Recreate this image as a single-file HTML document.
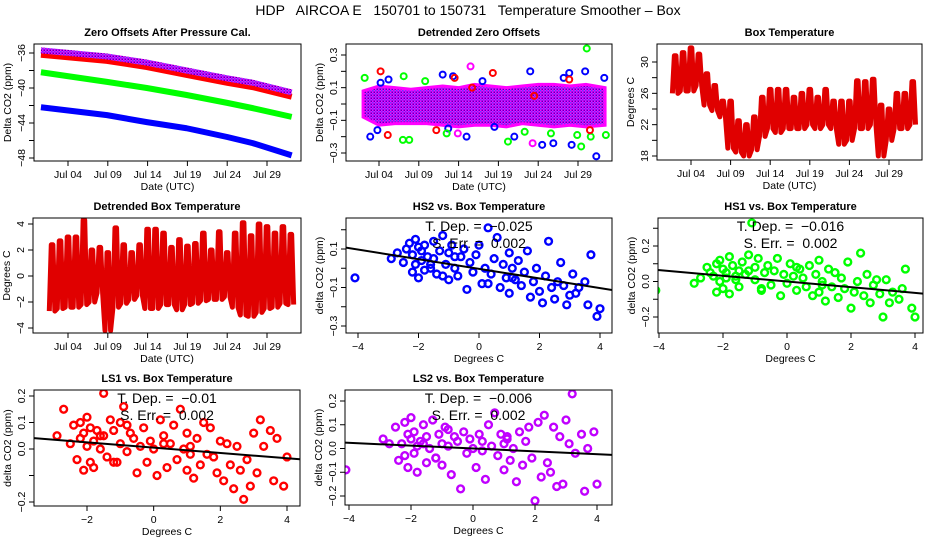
<!DOCTYPE html>
<html><head><meta charset="utf-8"><style>
html,body{margin:0;padding:0;background:#fff;}
svg text{font-family:"Liberation Sans",Arial,sans-serif;white-space:pre;}
</style></head><body>
<svg id="chart" width="936" height="540" viewBox="0 0 936 540" xmlns="http://www.w3.org/2000/svg">
<defs>
<pattern id="patPurple" width="3" height="3" patternUnits="userSpaceOnUse"><rect width="3" height="3" fill="#ff00ff"/><rect width="1.5" height="1.5" fill="#6040ff"/><rect x="1.5" y="1.5" width="1.5" height="1.5" fill="#5000c0"/></pattern>
</defs>
<text x="468" y="15" text-anchor="middle" font-size="14" xml:space="preserve">HDP   AIRCOA E   150701 to 150731   Temperature Smoother – Box</text>
</svg>
<script>
// ---------- data ----------
const zeroT = [-0.4, 7.9, 12.9, 17.9, 23, 26.2, 31.1];
const zeroBlue = [-42.2, -43.1, -43.9, -44.6, -45.6, -46.3, -47.7];
const zeroGreen = [-38.2, -39.3, -40.0, -40.8, -41.7, -42.3, -43.3];
const zeroRed = [-36.2, -36.9, -37.6, -38.5, -39.4, -39.9, -41.0];
const zeroPurple = [-35.7, -36.4, -37.1, -38.0, -38.9, -39.4, -40.5];

const bandT = [1, 3, 5, 7, 9, 11, 13, 15, 17, 19, 21, 23, 25, 27, 29, 31.4];
const bandHi = [0.08, 0.11, 0.1, 0.09, 0.1, 0.11, 0.1, 0.12, 0.11, 0.1, 0.11, 0.12, 0.12, 0.11, 0.12, 0.1];
const bandLo = [-0.08, -0.13, -0.12, -0.12, -0.12, -0.13, -0.14, -0.13, -0.13, -0.14, -0.12, -0.13, -0.14, -0.13, -0.14, -0.13];
const outBlue = [[1.9,-0.2],[2.8,-0.16],[4.2,0.15],[11.0,0.18],[11.7,-0.15],[14.0,-0.2],[17.5,-0.14],[20,-0.2],[22,0.2],[23.5,-0.25],[24.9,-0.24],[26.9,0.19],[27.2,-0.25],[28.9,0.2],[30.3,-0.32],[3.2,0.13],[12.3,0.17],[16,0.14],[26.2,0.16],[31.3,0.16]];
const outGreen = [[1.2,0.16],[6.0,-0.22],[6.8,-0.22],[6.1,0.17],[8.8,0.14],[19.2,-0.23],[24.6,-0.18],[27.9,-0.19],[28.4,-0.26],[29.1,0.34],[29.6,-0.2],[31.5,-0.19],[11.5,-0.18],[21.3,-0.17]];
const outRed = [[3.2,0.2],[4.1,-0.19],[10.2,-0.16],[17.3,0.19],[12.5,0.16],[26.9,0.15],[29.5,-0.16],[14.7,0.1],[22.5,0.05]];
const outPurple = [[14.5,0.23],[12.9,-0.18],[22.3,-0.24]];

const boxMax = [30.8,31.2,31.8,31.0,28.5,27.0,25.0,25.0,22.5,22.0,23.0,25.5,26.5,26.5,26.5,25.5,26.0,26.5,25.5,26.5,25.0,25.0,25.0,27.6,27.5,27.8,24.5,24.0,26.0,26.0,27.5];
const boxMin = [26.0,26.3,26.3,27.0,24.5,23.8,23.0,19.0,18.5,18.0,18.8,20.5,21.5,21.0,21.5,21.5,21.5,22.0,21.5,22.0,21.5,19.5,20.0,21.5,21.5,22.0,18.0,20.0,21.5,21.5,22.0];
const detMax = [2.4,2.7,3.0,3.0,4.3,2.0,2.2,1.8,3.7,2.4,1.8,2.4,3.6,3.6,3.3,2.2,2.8,2.3,2.5,3.3,2.0,3.4,1.8,3.3,4.1,3.1,4.0,3.8,3.3,3.8,3.2];
const detMin = [-2.7,-2.5,-2.4,-2.4,-2.2,-2.0,-1.3,-4.2,-2.4,-2.1,-1.8,-1.5,-2.5,-2.5,-2.2,-2.2,-2.6,-2.2,-2.1,-1.9,-1.8,-1.8,-1.6,-2.4,-3.0,-3.1,-2.8,-2.5,-2.4,-2.1,-2.2];

const tempX = [-4.1,-2.9,-2.7,-2.5,-2.4,-2.3,-2.2,-2.2,-2.1,-2.1,
 -2.0,-2.0,-1.9,-1.9,-1.8,-1.8,-1.7,-1.6,-1.5,-1.5,
 -1.4,-1.3,-1.2,-1.1,-1.0,-1.0,-0.9,-0.8,-0.7,-0.6,
 -0.5,-0.4,-0.3,-0.2,-0.1,0.0,0.1,0.2,0.3,0.4,
 0.5,0.6,0.7,0.8,0.9,1.0,1.0,1.1,1.2,1.3,
 1.4,1.5,1.6,1.7,1.8,1.9,2.0,2.1,2.2,2.3,
 2.4,2.5,2.6,2.7,2.8,2.9,3.0,3.1,3.2,3.3,
 3.5,3.6,3.7,3.9,4.0,-1.6,-1.2,-0.8,0.3,1.1];
const hs2Y = [-0.05,0.05,0.08,0.03,0.10,0.13,0.07,-0.02,0.15,0.02,
 0.11,-0.05,0.09,0.04,0.12,-0.01,0.06,0.00,0.14,0.05,
 -0.03,0.09,0.17,0.02,-0.06,0.08,0.12,0.00,-0.04,0.06,
 0.10,-0.11,0.03,-0.02,0.07,0.12,-0.08,0.00,0.21,-0.03,
 0.05,0.16,-0.10,0.02,-0.05,0.08,-0.13,0.00,-0.06,0.04,
 -0.09,-0.02,0.09,-0.15,-0.07,0.00,-0.12,-0.18,-0.04,0.14,
 -0.10,-0.16,-0.07,0.03,-0.09,-0.19,-0.14,-0.03,-0.13,-0.10,
 -0.07,-0.19,0.07,-0.25,-0.21,0.02,-0.04,0.06,-0.08,-0.05];
const hs1Y = [-0.05,-0.01,0.02,0.08,0.05,0.03,0.10,-0.06,0.12,0.00,
 0.07,-0.04,0.05,0.02,0.14,-0.07,0.09,0.01,0.06,-0.03,
 0.11,0.04,0.15,0.33,0.08,0.01,0.13,-0.05,0.05,0.09,
 -0.02,0.06,0.13,-0.08,0.04,-0.01,0.10,0.03,-0.05,0.07,
 0.02,-0.03,0.09,-0.08,0.04,0.12,-0.06,0.00,-0.11,0.07,
 -0.03,0.05,-0.09,0.02,-0.04,0.11,-0.15,-0.06,0.00,0.16,
 -0.08,0.04,-0.12,-0.02,0.01,-0.07,-0.20,0.01,-0.12,-0.06,
 -0.10,-0.04,0.07,-0.15,-0.20,0.03,0.06,-0.04,0.08,-0.02];
const ls1Y = [0.03,0.05,0.15,0.02,0.09,-0.04,0.04,0.10,-0.08,0.06,
 0.01,0.12,-0.05,0.08,0.03,-0.07,0.07,0.00,0.05,0.21,
 -0.03,0.11,0.07,-0.05,0.02,0.10,0.16,-0.01,0.06,0.04,
 -0.09,0.01,0.08,-0.05,0.03,0.00,-0.10,0.11,0.05,-0.07,
 0.02,0.09,-0.04,0.15,0.00,-0.08,0.06,0.01,-0.11,0.04,
 -0.06,0.10,-0.02,0.08,-0.03,-0.09,0.03,-0.12,0.02,-0.06,
 -0.15,0.01,-0.08,-0.19,-0.04,-0.14,0.06,-0.09,0.11,0.01,
 0.07,-0.12,0.04,-0.14,-0.03,0.05,-0.05,0.09,0.02,-0.02];
const ls2Y = [-0.09,0.04,0.02,0.09,-0.05,0.02,0.11,-0.03,0.06,-0.08,
 0.04,0.13,-0.02,0.07,0.01,-0.10,0.03,0.10,-0.06,0.05,
 0.00,0.12,-0.04,0.06,0.02,-0.07,0.09,0.01,-0.11,0.05,
 0.03,-0.17,0.07,-0.02,0.04,0.00,-0.08,0.06,0.03,-0.13,
 0.10,0.01,0.15,-0.03,0.06,0.02,-0.09,0.05,-0.05,0.00,
 -0.14,0.07,-0.07,0.03,0.09,-0.04,-0.22,0.11,-0.12,0.14,
 -0.06,-0.10,0.09,-0.16,0.05,-0.15,0.12,0.02,0.23,-0.02,
 0.06,-0.18,0.00,0.07,-0.15,0.02,-0.04,0.08,-0.01,0.04];

const dateTicks = [3, 8, 13, 18, 23, 28];
const dateLabels = ["Jul 04","Jul 09","Jul 14","Jul 19","Jul 24","Jul 29"];
const fits = {hs2:[-0.003,-0.025], hs1:[0.0,-0.016], ls1:[0.005,-0.01], ls2:[0.0,-0.006]};
const fitText = {hs2:["T. Dep. =  −0.025","S. Err. =  0.002"], hs1:["T. Dep. =  −0.016","S. Err. =  0.002"], ls1:["T. Dep. =  −0.01","S. Err. =  0.002"], ls2:["T. Dep. =  −0.006","S. Err. =  0.002"]};

// ---------- helpers ----------
const svg = document.getElementById('chart');
const NS = 'http://www.w3.org/2000/svg';
function mk(tag, attrs, parent){ const e=document.createElementNS(NS,tag); for(const k in attrs) e.setAttribute(k,attrs[k]); (parent||svg).appendChild(e); return e; }
function lin(v0,p0,v1,p1){ return v=> p0+(v-v0)*(p1-p0)/(v1-v0); }
function fmt(v,d){ const s=Math.abs(v).toFixed(d); return (v<-1e-9?'−':'')+s; }

function panel(cfg){
  const g = mk('g',{});
  
  
  const sx = lin(cfg.xc[0],cfg.xc[1],cfg.xc[2],cfg.xc[3]);
  const sy = lin(cfg.yc[0],cfg.yc[1],cfg.yc[2],cfg.yc[3]);
  const cid = 'clip-'+cfg.name;
  const cp = mk('clipPath',{id:cid},g); mk('rect',{x:cfg.l,y:cfg.t,width:cfg.r-cfg.l,height:cfg.b-cfg.t},cp);
  const plot = mk('g',{'clip-path':'url(#'+cid+')'},g);
  
  
  const fr = mk('rect',{x:cfg.l,y:cfg.t,width:cfg.r-cfg.l,height:cfg.b-cfg.t,fill:'none',stroke:'#000','stroke-width':1},g);
  
  
  const tt = mk('text',{x:(cfg.l+cfg.r)/2,y:cfg.t-8,'text-anchor':'middle','font-size':11,'font-weight':'bold'},g);
  tt.textContent = cfg.title;
  
  
  const xa = mk('g',{},g);
  
  
  cfg.xt.forEach((v,i)=>{ const x=sx(v); mk('line',{x1:x,x2:x,y1:cfg.b,y2:cfg.b+5,stroke:'#000'},xa);
    const t=mk('text',{x:x,y:cfg.b+17,'text-anchor':'middle','font-size':10.5},xa); t.textContent=cfg.xl[i];
    
     });
  mk('line',{x1:sx(cfg.xt[0]),x2:sx(cfg.xt[cfg.xt.length-1]),y1:cfg.b,y2:cfg.b,stroke:'#000'},xa);
  const xt = mk('text',{x:(cfg.l+cfg.r)/2,y:cfg.b+29,'text-anchor':'middle','font-size':10.5},g);
  xt.textContent = cfg.xtitle;
  
  
  const ya = mk('g',{},g);
  
  
  cfg.yt.forEach(v=>{ const y=sy(v); mk('line',{x1:cfg.l-5,x2:cfg.l,y1:y,y2:y,stroke:'#000'},ya);
    if(cfg.ylab(v)){ const t=mk('text',{x:0,y:0,transform:`translate(${cfg.l-9},${y}) rotate(-90)`,'text-anchor':'middle','font-size':10.5},ya); t.textContent=fmt(v,cfg.yd);
      
       } });
  mk('line',{x1:cfg.l,x2:cfg.l,y1:sy(cfg.yt[0]),y2:sy(cfg.yt[cfg.yt.length-1]),stroke:'#000'},ya);
  const yt = mk('text',{x:0,y:0,transform:`translate(${cfg.l-23},${(cfg.t+cfg.b)/2}) rotate(-90)`,'text-anchor':'middle','font-size':10.5},g);
  yt.textContent = cfg.ytitle;
  
  
  return {plot,sx,sy,g,cfg};
}
function range(a,b,s){ const r=[]; for(let v=a; v<=b+1e-9; v+=s) r.push(Math.round(v*1000)/1000); return r; }
function has(list){ return v=> list.some(w=>Math.abs(w-v)<1e-6); }

// ---------- panel 1 ----------
let p = panel({name:'zero-offsets-panel',title:'Zero Offsets After Pressure Cal.',l:34,r:301,t:44,b:161,xc:[3,68,28,267],yc:[-36,53,-48,158],
  xt:dateTicks,xl:dateLabels,xtitle:'Date (UTC)',ytitle:'Delta CO2 (ppm)',yt:range(-48,-36,2),yd:0,ylab:has([-36,-40,-44,-48])});
[[zeroBlue,'#0000ff',6,'blue'],[zeroGreen,'#00ff00',6,'green'],[zeroRed,'#ff0000',6,'red'],[zeroPurple,'url(#patPurple)',6,'purple']].forEach(s=>{
  const pts = zeroT.map((t,i)=>p.sx(t)+','+p.sy(s[0][i])).join(' ');
  const e = mk('polyline',{points:pts,fill:'none',stroke:s[1],'stroke-width':s[2],'stroke-linejoin':'round'},p.plot);
  
  
});

// ---------- panel 2 ----------
p = panel({name:'detrended-zero-panel',title:'Detrended Zero Offsets',l:346,r:612,t:44,b:161,xc:[3,379,28,578],yc:[0.3,55,-0.3,153],
  xt:dateTicks,xl:dateLabels,xtitle:'Date (UTC)',ytitle:'Delta CO2 (ppm)',yt:range(-0.3,0.3,0.1),yd:1,ylab:has([0.3,0.1,-0.1,-0.3])});
{
  const top = bandT.map((t,i)=>p.sx(t)+','+p.sy(bandHi[i]));
  const bot = bandT.map((t,i)=>p.sx(t)+','+p.sy(bandLo[i])).reverse();
  const band = mk('polygon',{points:top.concat(bot).join(' '),fill:'url(#patPurple)',stroke:'#ff00ff','stroke-width':3},p.plot);
  
  
  [[outBlue,'#0000ff'],[outGreen,'#00ff00'],[outRed,'#ff0000'],[outPurple,'#ff00ff']].forEach(s=>{
    s[0].forEach(d=>{ const c=mk('circle',{cx:p.sx(d[0]),cy:p.sy(d[1]),r:3,fill:'none',stroke:s[1],'stroke-width':2},p.plot);
      
       });
  });
}

// ---------- panel 3 ----------
function zig(pp, mx, mn, name){
  const pts=[]; mx.forEach((v,i)=>{ const t=i+1; pts.push(pp.sx(t-0.35)+','+pp.sy(mn[i])); pts.push(pp.sx(t-0.1)+','+pp.sy(v)); pts.push(pp.sx(t+0.1)+','+pp.sy(v)); pts.push(pp.sx(t+0.35)+','+pp.sy(mn[i])); });
  const e = mk('polyline',{points:pts.join(' '),fill:'none',stroke:'#e00000','stroke-width':5,'stroke-linejoin':'round'},pp.plot);
  
  
}
p = panel({name:'box-temperature-panel',title:'Box Temperature',l:657,r:922,t:44,b:160,xc:[3,691,28,889],yc:[30,62,18,156],
  xt:dateTicks,xl:dateLabels,xtitle:'Date (UTC)',ytitle:'Degrees C',yt:range(18,30,2),yd:0,ylab:has([30,26,22,18])});
zig(p, boxMax, boxMin, 'box-temperature-series');

// ---------- panel 4 ----------
p = panel({name:'detrended-box-temp-panel',title:'Detrended Box Temperature',l:33,r:301,t:218,b:333,xc:[3,68,28,267],yc:[4,224,-4,328],
  xt:dateTicks,xl:dateLabels,xtitle:'Date (UTC)',ytitle:'Degrees C',yt:range(-4,4,2),yd:0,ylab:()=>true});
zig(p, detMax, detMin, 'detrended-box-temp-series');

// ---------- scatter panels ----------
function scatter(cfg, ys, col, key){
  const pp = panel(cfg);
  tempX.forEach((x,i)=>{ const c=mk('circle',{cx:pp.sx(x),cy:pp.sy(ys[i]),r:3.4,fill:'none',stroke:col,'stroke-width':2.4},pp.plot);
    
     });
  const f = fits[key]; const x0=-5, x1=5;
  const ln = mk('line',{x1:pp.sx(x0),y1:pp.sy(f[0]+f[1]*x0),x2:pp.sx(x1),y2:pp.sy(f[0]+f[1]*x1),stroke:'#000','stroke-width':2},pp.plot);
  
  
  const cx=(cfg.l+cfg.r)/2;
  fitText[key].forEach((s,i)=>{ const t=mk('text',{x:cx,y:cfg.t+13+i*17,'text-anchor':'middle','font-size':14},pp.g); t.textContent=s;
    
     });
}
scatter({name:'hs2-vs-temp-panel',title:'HS2 vs. Box Temperature',l:346,r:612,t:218,b:333,xc:[-4,358,4,600],yc:[0.1,249,-0.3,326],
  xt:[-4,-2,0,2,4],xl:['−4','−2','0','2','4'],xtitle:'Degrees C',ytitle:'delta CO2 (ppm)',yt:range(-0.3,0.2,0.1),yd:1,ylab:has([0.1,-0.1,-0.3])}, hs2Y,'#0000ff','hs2');
scatter({name:'hs1-vs-temp-panel',title:'HS1 vs. Box Temperature',l:658,r:923,t:218,b:333,xc:[-4,659,4,915],yc:[0.2,246,-0.2,317],
  xt:[-4,-2,0,2,4],xl:['−4','−2','0','2','4'],xtitle:'Degrees C',ytitle:'delta CO2 (ppm)',yt:range(-0.2,0.3,0.1),yd:1,ylab:has([0.2,0,-0.2])}, hs1Y,'#00ff00','hs1');
scatter({name:'ls1-vs-temp-panel',title:'LS1 vs. Box Temperature',l:34,r:300,t:390,b:506,xc:[-2,87,4,287],yc:[0.2,396,-0.2,502],
  xt:[-2,0,2,4],xl:['−2','0','2','4'],xtitle:'Degrees C',ytitle:'delta CO2 (ppm)',yt:range(-0.2,0.2,0.1),yd:1,ylab:has([0.2,0.1,0,-0.2])}, ls1Y,'#ff0000','ls1');
scatter({name:'ls2-vs-temp-panel',title:'LS2 vs. Box Temperature',l:345,r:612,t:390,b:505,xc:[-4,349,4,597],yc:[0.2,401,-0.2,496],
  xt:[-4,-2,0,2,4],xl:['−4','−2','0','2','4'],xtitle:'Degrees C',ytitle:'delta CO2 (ppm)',yt:range(-0.2,0.2,0.1),yd:1,ylab:()=>true}, ls2Y,'#c000ff','ls2');
</script>
</body></html>
